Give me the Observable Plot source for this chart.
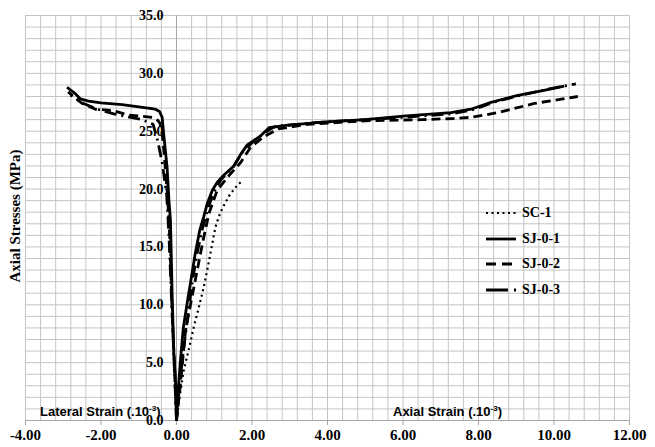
<!DOCTYPE html>
<html><head><meta charset="utf-8">
<script src="https://cdn.jsdelivr.net/npm/d3@7"></script>
<script src="https://cdn.jsdelivr.net/npm/@observablehq/plot@0.6"></script>
<style>
body{margin:0;background:#fff;}
#wrap{position:relative;width:655px;height:447px;}
.lbl{position:absolute;font-family:"Liberation Sans",Arial,sans-serif;font-weight:bold;font-size:13px;color:#000;white-space:nowrap;line-height:1}
.lbl sup{font-size:8px;vertical-align:5px}
.ytitle{position:absolute;font-family:"Liberation Serif","Times New Roman",serif;font-weight:bold;font-size:15px;white-space:nowrap;transform:translate(-50%,-50%) rotate(-90deg);left:15px;top:216px}
.leg{position:absolute;left:486px;font-family:"Liberation Serif","Times New Roman",serif;font-weight:bold;font-size:14px;}
.leg div{height:25.7px;display:flex;align-items:center}
.leg svg{margin-right:6px}
</style></head>
<body><div id="wrap"></div>
<script>
// ---- data (strain in 10^-3, stress in MPa) ----
const series = ["SC-1", "SJ-0-1", "SJ-0-2", "SJ-0-3"];
const xTicks = [-4, -2, 0, 2, 4, 6, 8, 10, 12];
const yTicks = [0, 5, 10, 15, 20, 25, 30, 35];

const sc1Lateral = [[0,0],[-0.03,2],[-0.06,4],[-0.09,7],[-0.12,10],[-0.15,13],[-0.18,16],[-0.22,18.5],[-0.28,20.6]];
const sc1Axial = [[0,0],[0.08,2],[0.19,4.3],[0.33,6.2],[0.46,8.1],[0.6,9.9],[0.72,11.5],[0.82,13.1],[0.92,14.8],[1.03,16.7],[1.12,17.6],[1.21,18.3],[1.39,19.4],[1.55,20.1],[1.70,20.6]];

const sj01Lateral = [[0,0],[-0.02,3],[-0.07,5.8],[-0.09,8],[-0.11,10.1],[-0.13,13],[-0.16,17.3],[-0.2,19],[-0.25,21.9],[-0.3,23.5],[-0.34,24.8],[-0.38,26.2],[-0.45,26.7],[-0.56,26.9],[-1.0,27.1],[-1.44,27.3],[-2.0,27.45],[-2.33,27.6],[-2.55,27.8],[-2.7,28.3],[-2.9,28.8]];
const sj01Axial = [[0,0],[0.03,2],[0.1,5],[0.18,8],[0.3,10.5],[0.4,12.5],[0.5,14.5],[0.62,16.5],[0.72,17.6],[0.81,18.7],[0.95,19.9],[1.08,20.6],[1.25,21.2],[1.52,22.0],[1.70,23.0],[1.87,23.8],[2.05,24.2],[2.23,24.6],[2.45,25.3],[2.9,25.5],[3.95,25.8],[5.0,26.0],[6.0,26.3],[7.27,26.6],[7.8,26.9],[8.33,27.5],[9.04,28.1],[9.7,28.5],[10.27,28.9]];

const sj02Lateral = [[0,0],[-0.04,4],[-0.1,8],[-0.14,12],[-0.18,16],[-0.24,19.5],[-0.32,22.8],[-0.38,24.8],[-0.44,25.7],[-0.5,25.95],[-0.64,26.2],[-1.27,26.4],[-1.71,26.8],[-2.15,26.9],[-2.5,27.4],[-2.73,28.0],[-2.87,28.4]];
const sj02Axial = [[0,0],[0.1,3],[0.24,7.8],[0.4,10.5],[0.55,13.0],[0.7,15.5],[0.86,17.9],[1.08,19.9],[1.4,21.2],[1.70,22.3],[1.96,23.6],[2.3,24.5],[2.7,25.2],[3.5,25.6],[5.0,25.9],[6.5,26.0],[7.35,26.1],[7.8,26.2],[8.51,26.6],[9.48,27.4],[10.63,28.0]];

const sj03Lateral = [[0,0],[-0.05,4],[-0.1,8],[-0.15,12],[-0.2,16],[-0.26,19.5],[-0.38,22.3],[-0.5,24.2],[-0.62,25.6],[-0.91,26.0],[-1.66,26.5],[-2.1,26.9],[-2.46,27.4],[-2.8,28.1]];
const sj03Axial = [[0,0],[0.08,3],[0.18,6],[0.3,9],[0.42,12],[0.55,14.5],[0.68,16.5],[0.85,18.5],[1.0,19.8],[1.2,20.9],[1.5,21.9],[1.75,23.2],[2.0,24.0],[2.3,24.8],[2.6,25.4],[3.5,25.7],[5.0,26.0],[6.0,26.2],[7.3,26.5],[7.9,26.9],[8.4,27.5],[9.1,28.1],[9.8,28.6],[10.58,29.1]];

const styles = {
  "SC-1":   {dash: "2,3.5", width: 2.2},
  "SJ-0-1": {dash: null, width: 2.8},
  "SJ-0-2": {dash: "9,5", width: 2.8},
  "SJ-0-3": {dash: "12,5,2,5", width: 2.8}
};
const branches = [
  ["SC-1", sc1Lateral], ["SC-1", sc1Axial],
  ["SJ-0-3", sj03Lateral], ["SJ-0-3", sj03Axial],
  ["SJ-0-2", sj02Lateral], ["SJ-0-2", sj02Axial],
  ["SJ-0-1", sj01Lateral], ["SJ-0-1", sj01Axial]
];

const serif = '"Liberation Serif","Times New Roman",serif';
const lineMarks = branches.map(([name, pts]) => Plot.line(pts, {
  x: d => d[0], y: d => d[1], stroke: "#000",
  strokeWidth: styles[name].width, strokeDasharray: styles[name].dash,
  strokeLinejoin: "round", strokeLinecap: "butt"
}));

const chart = Plot.plot({
  width: 655, height: 447,
  marginLeft: 25, marginRight: 26, marginTop: 15, marginBottom: 27,
  style: {fontFamily: serif, background: "#fff", overflow: "visible"},
  x: {domain: [-4, 12]},
  y: {domain: [0, 35]},
  marks: [
    Plot.ruleX(d3.range(-4, 12.001, 0.4), {stroke: "#c4c4c4", strokeWidth: 1}),
    Plot.ruleY(d3.range(0, 35.001, 1), {stroke: "#c4c4c4", strokeWidth: 1}),
    Plot.ruleX([0], {stroke: "#a6a6a6", strokeWidth: 1}),
    Plot.ruleY([0], {stroke: "#a6a6a6", strokeWidth: 1}),
    Plot.axisX({ticks: xTicks, tickFormat: d => d.toFixed(2), tickSize: 5, tickPadding: 4,
      label: null, stroke: "#a6a6a6", fill: "#000", fontSize: 15, fontWeight: "bold", fontFamily: serif}),
    Plot.axisY({ticks: [], label: null}),
    ...lineMarks,
    Plot.text(yTicks, {x: 0, y: d => d, text: d => d.toFixed(1), textAnchor: "end", dx: -13,
      fontSize: 14, fontWeight: "bold", fontFamily: serif, fill: "#000"})
  ]
});

const wrap = document.getElementById("wrap");
wrap.appendChild(chart);

// axis titles
const yt = document.createElement("div");
yt.className = "ytitle"; yt.textContent = "Axial Stresses (MPa)";
wrap.appendChild(yt);
const lat = document.createElement("div");
lat.className = "lbl"; lat.style.left = "40px"; lat.style.top = "405px";
lat.innerHTML = "Lateral Strain (.10<sup>-3</sup>)";
wrap.appendChild(lat);
const ax = document.createElement("div");
ax.className = "lbl"; ax.style.left = "393px"; ax.style.top = "405px";
ax.innerHTML = "Axial Strain (.10<sup>-3</sup>)";
wrap.appendChild(ax);

// legend
const leg = document.createElement("div");
leg.className = "leg"; leg.style.top = "200px";
series.forEach(name => {
  const row = document.createElement("div");
  const s = styles[name];
  const svg = d3.create("svg").attr("width", 30).attr("height", 10);
  svg.append("line").attr("x1", 0).attr("x2", 30).attr("y1", 5).attr("y2", 5)
    .attr("stroke", "#000").attr("stroke-width", s.width)
    .attr("stroke-dasharray", name === "SJ-0-3" ? "22,6,2,10" : (name === "SJ-0-2" ? "10,6" : s.dash));
  row.appendChild(svg.node());
  const t = document.createElement("span"); t.textContent = name;
  row.appendChild(t);
  leg.appendChild(row);
});
wrap.appendChild(leg);
</script>
</body></html>
